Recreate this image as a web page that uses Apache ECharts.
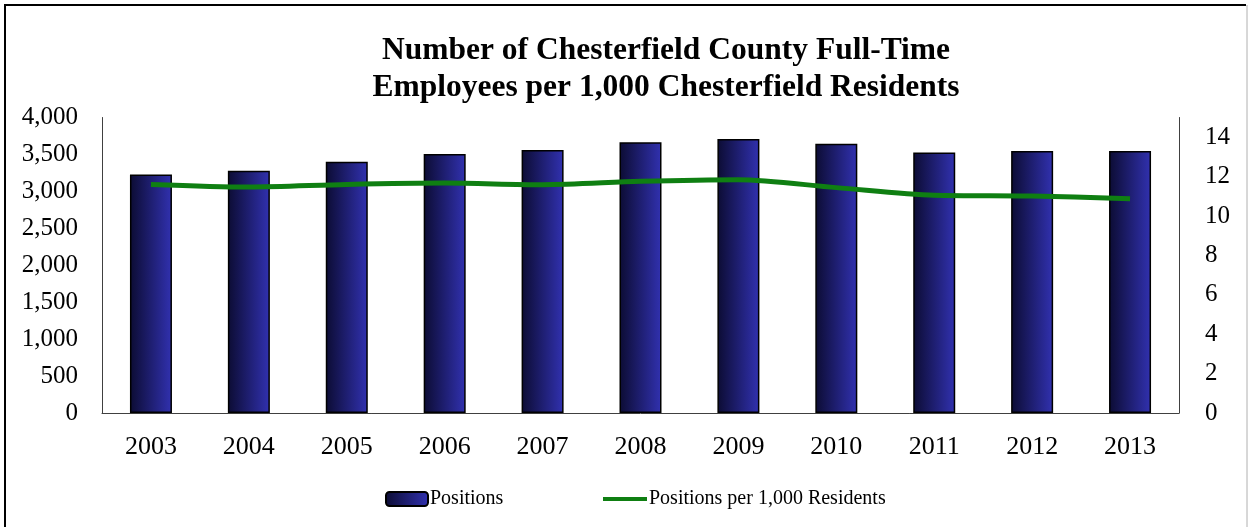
<!DOCTYPE html>
<html>
<head>
<meta charset="utf-8">
<script src="https://cdn.jsdelivr.net/npm/echarts@6/dist/echarts.min.js"></script>
<style>
  html, body { margin: 0; padding: 0; background: #ffffff; }
  #chart { width: 1249px; height: 527px; }
</style>
</head>
<body>
<div id="chart"></div>
<script>
// Fiscal years on the category axis
const years = ['2003', '2004', '2005', '2006', '2007', '2008', '2009', '2010', '2011', '2012', '2013'];
// Full-time county positions (left axis)
const positions = [3230, 3280, 3400, 3505, 3560, 3665, 3710, 3645, 3525, 3545, 3545];
// Positions per 1,000 residents (right axis)
const perThousand = [11.6, 11.47, 11.6, 11.67, 11.59, 11.76, 11.84, 11.44, 11.05, 11.01, 10.88];

const titleLines = ['Number of Chesterfield County Full-Time', 'Employees per 1,000 Chesterfield Residents'];
const serif = '"Liberation Serif", "Times New Roman", serif';

const chart = echarts.init(document.getElementById('chart'), null, { renderer: 'canvas' });

const barFill = new echarts.graphic.LinearGradient(0, 0, 1, 0, [
  { offset: 0, color: '#0c0c33' },
  { offset: 1, color: '#3131b0' }
]);

const legendText = { fontFamily: serif, fontSize: 20, color: '#000000' };

chart.setOption({
  animation: false,
  backgroundColor: '#ffffff',
  graphic: [
    // frame: heavy top and left edges, faint right edge
    {
      type: 'polyline',
      shape: { points: [[5, 527], [5, 5], [1246, 5]] },
      style: { fill: 'none', stroke: '#000000', lineWidth: 2 },
      silent: true
    },
    {
      type: 'line',
      shape: { x1: 1247, y1: 5, x2: 1247, y2: 527 },
      style: { stroke: '#b0b0b0', lineWidth: 1 },
      silent: true
    },
    {
      type: 'text',
      x: 666, y: 51,
      style: {
        text: titleLines[0], align: 'center', verticalAlign: 'middle',
        font: 'bold 31.5px ' + serif, fill: '#000000'
      }
    },
    {
      type: 'text',
      x: 666, y: 88,
      style: {
        text: titleLines[1], align: 'center', verticalAlign: 'middle',
        font: 'bold 31.5px ' + serif, fill: '#000000'
      }
    }
  ],
  grid: { left: 102, right: 70, top: 117.5, bottom: 114, containLabel: false },
  legend: [
    {
      left: 385, top: 489, padding: 0,
      itemWidth: 42, itemHeight: 14, itemGap: 2,
      textStyle: Object.assign({ padding: [0, 0, 0, -3] }, legendText),
      data: ['Positions']
    },
    {
      left: 603, top: 489, padding: 0,
      itemWidth: 44, itemHeight: 4,
      icon: 'rect',
      textStyle: Object.assign({ padding: [0, 0, 0, -3] }, legendText),
      data: ['Positions per 1,000 Residents']
    }
  ],
  xAxis: {
    type: 'category',
    data: years,
    axisLine: { show: true, lineStyle: { color: '#404040', width: 1 } },
    axisTick: { show: false },
    axisLabel: { fontFamily: serif, fontSize: 26, color: '#000000', margin: 21 }
  },
  yAxis: [
    {
      type: 'value', min: 0, max: 4000, interval: 500,
      axisLine: { show: true, lineStyle: { color: '#404040', width: 1 } },
      axisTick: { show: false },
      splitLine: { show: false },
      axisLabel: {
        fontFamily: serif, fontSize: 25, color: '#000000', margin: 24,
        formatter: v => v.toLocaleString('en-US')
      }
    },
    {
      type: 'value', min: 0, max: 15, interval: 2,
      position: 'right',
      axisLine: { show: true, lineStyle: { color: '#404040', width: 1 } },
      axisTick: { show: false },
      splitLine: { show: false },
      axisLabel: { fontFamily: serif, fontSize: 25, color: '#000000', margin: 26, showMaxLabel: false }
    }
  ],
  series: [
    {
      name: 'Positions',
      type: 'bar',
      data: positions,
      yAxisIndex: 0,
      barWidth: 42,
      itemStyle: { color: barFill, borderColor: '#000000', borderWidth: 1.5 }
    },
    {
      name: 'Positions per 1,000 Residents',
      type: 'line',
      data: perThousand,
      yAxisIndex: 1,
      smooth: 0.3,
      symbol: 'none',
      lineStyle: { color: '#0f7f12', width: 5 },
      itemStyle: { color: '#0f7f12' }
    }
  ]
});
</script>
</body>
</html>
